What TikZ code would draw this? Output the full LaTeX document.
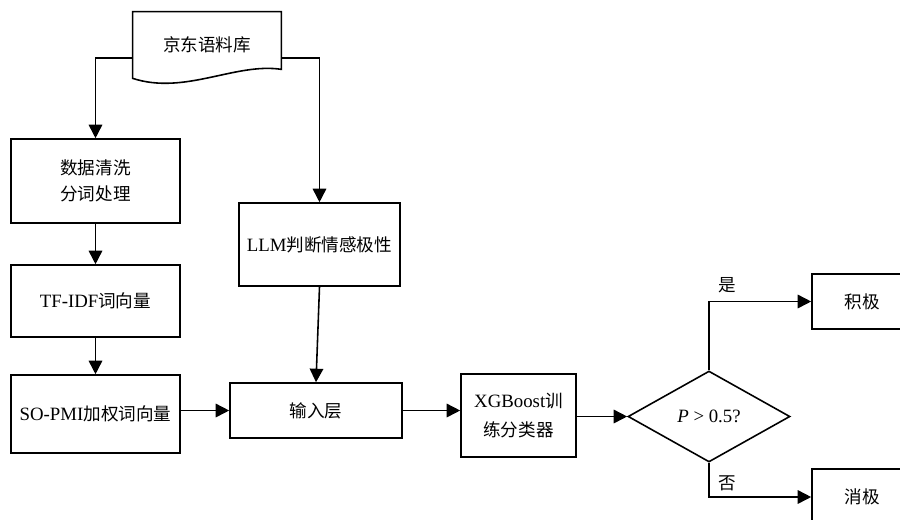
\documentclass[tikz,border=0pt]{standalone}
\usepackage{fontspec}
\setmainfont{Liberation Serif}[Scale=1.07]
\newfontfamily\cjk{Noto Sans CJK SC}
\usetikzlibrary{shapes.geometric,arrows.meta}

\begin{document}
\begin{tikzpicture}[
        box/.style={draw, line width=0.9pt, align=center, inner sep=2pt},
        arr/.style={line width=0.9pt, -{Triangle[length=0.27cm,width=0.27cm]}}]
        \clip (0,0) rectangle (18,-10.38);

        % Corpus (document shape)
        \node (corpus) at (4.14,-0.90) [minimum width=2.96cm, minimum height=1.32cm, font=\cjk] {京东语料库};
        \draw[line width=0.9pt] (corpus.north west) -- (corpus.north east)
            -- ([yshift=0.18cm]corpus.south east)
            .. controls +(-0.92,0.14) and +(1.04,-0.34) .. (corpus.south west) -- cycle;

        % Left column: preprocessing
        \node[box, minimum width=3.38cm, minimum height=1.68cm, font=\cjk] (clean) at (1.91,-3.62) {数据清洗\\[3pt]分词处理};
        \node[box, minimum width=3.38cm, minimum height=1.44cm] (tfidf) at (1.91,-6.02) {TF-IDF{\cjk 词向量}};
        \node[box, minimum width=3.38cm, minimum height=1.56cm] (sopmi) at (1.91,-8.28) {SO-PMI{\cjk 加权词向量}};

        % LLM and input layer
        \node[box, minimum width=3.22cm, minimum height=1.66cm] (llm) at (6.39,-4.89) {LLM{\cjk 判断情感极性}};
        \node[box, minimum width=3.44cm, minimum height=1.10cm, font=\cjk] (input) at (6.32,-8.21) {输入层};

        % Classifier and decision
        \node[box, minimum width=2.30cm, minimum height=1.66cm] (xgb) at (10.37,-8.31) {XGBoost{\cjk 训}\\[5pt]{\cjk 练分类器}};
        \node[box, shape=diamond, minimum width=3.24cm, minimum height=1.82cm] (dia) at (14.18,-8.33) {\textit{P} > 0.5?};

        % Results
        \node[box, minimum width=2.0cm, minimum height=1.10cm, font=\cjk] (pos) at (17.24,-6.03) {积极};
        \node[box, minimum width=2.0cm, minimum height=1.12cm, font=\cjk] (neg) at (17.24,-9.94) {消极};
        \node[font=\cjk] (yes) at (14.54,-5.70) {是};
        \node[font=\cjk] (no) at (14.54,-9.66) {否};

        % Connectors
        \draw[arr] ([yshift=-0.26cm]corpus.west) -| (clean.north);
        \draw[arr] ([yshift=-0.26cm]corpus.east) -| (llm.north);
        \draw[arr] (clean) -- (tfidf);
        \draw[arr] (tfidf) -- (sopmi);
        \draw[arr] (sopmi.east |- input.west) -- (input.west);
        \draw[arr] (llm.south) -- (input.north);
        \draw[arr] (input.east) -- (input.east -| xgb.west);
        \draw[arr] (xgb.east |- dia.west) -- (dia.west);
        \draw[arr] (dia.north) |- (pos.west);
        \draw[arr] (dia.south) |- (neg.west);
    \end{tikzpicture}
\end{document}
